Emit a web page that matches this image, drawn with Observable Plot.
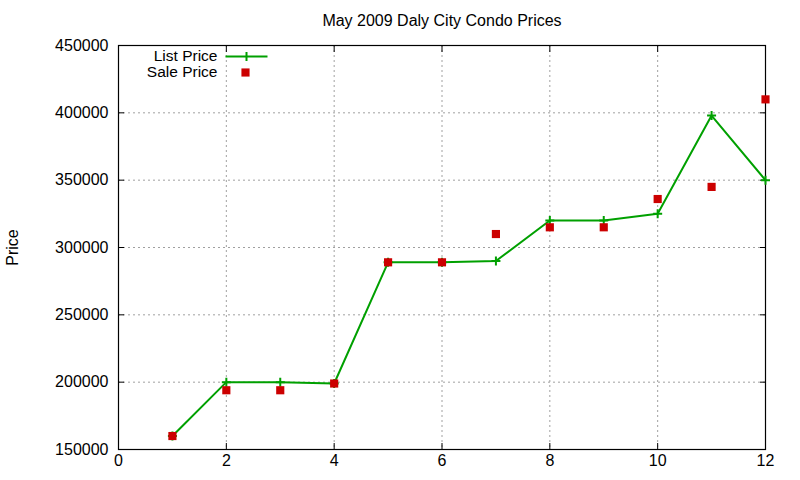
<!DOCTYPE html>
<html>
<head>
<meta charset="utf-8">
<script src="https://cdn.jsdelivr.net/npm/d3@7"></script>
<script src="https://cdn.jsdelivr.net/npm/@observablehq/plot@0.6"></script>
<style>
  html, body { margin: 0; padding: 0; background: #fff; }
  #chart svg { display: block; }
</style>
</head>
<body>
<div id="chart"></div>
<script>
const title = "May 2009 Daly City Condo Prices";
const yLabel = "Price";
const seriesNames = ["List Price", "Sale Price"];
const xValues = [1, 2, 3, 4, 5, 6, 7, 8, 9, 10, 11, 12];
const listPrice = [160000, 200000, 200000, 199000, 289000, 289000, 290000, 320000, 320000, 325000, 398000, 350000];
const salePrice = [160000, 194000, 194000, 199000, 289000, 289000, 310000, 315000, 315000, 336000, 345000, 410000];
const xTicks = [0, 2, 4, 6, 8, 10, 12];
const yTicks = [150000, 200000, 250000, 300000, 350000, 400000, 450000];

const listData = xValues.map((x, i) => ({x, y: listPrice[i]}));
const saleData = xValues.map((x, i) => ({x, y: salePrice[i]}));

const green = "#00a000";
const red = "#cc0000";

const plusSymbol = {
  draw(ctx) {
    const r = 4.5;
    ctx.moveTo(-r, 0); ctx.lineTo(r, 0);
    ctx.moveTo(0, -r); ctx.lineTo(0, r);
  }
};
const legendLineSymbol = {
  draw(ctx) {
    ctx.moveTo(-21, 0); ctx.lineTo(21, 0);
    ctx.moveTo(0, -4.5); ctx.lineTo(0, 4.5);
  }
};

const font = "Liberation Sans, Arial, sans-serif";

const chart = Plot.plot({
  width: 800,
  height: 480,
  marginLeft: 118,
  marginRight: 35,
  marginTop: 45,
  marginBottom: 31,
  style: {fontFamily: font, fontSize: "16px", color: "black", background: "white"},
  x: {domain: [0, 12], ticks: xTicks},
  y: {domain: [150000, 450000], ticks: yTicks},
  marks: [
    Plot.gridX(xTicks, {stroke: "#a0a0a0", strokeOpacity: 1, strokeDasharray: "2,3"}),
    Plot.gridY(yTicks, {stroke: "#a0a0a0", strokeOpacity: 1, strokeDasharray: "2,3"}),
    Plot.frame({stroke: "black", strokeWidth: 1.2}),
    Plot.axisX(xTicks, {anchor: "bottom", tickSize: -6, tickPadding: 11, tickFormat: d => String(d), label: null, fontSize: 16}),
    Plot.axisX(xTicks, {anchor: "top", tickSize: -6, fill: "none", label: null}),
    Plot.axisY(yTicks, {anchor: "left", tickSize: -6, tickPadding: 16, tickFormat: d => String(d), label: null, fontSize: 16}),
    Plot.axisY(yTicks, {anchor: "right", tickSize: -6, fill: "none", label: null}),
    Plot.line(listData, {x: "x", y: "y", stroke: green, strokeWidth: 2}),
    Plot.dot(listData, {x: "x", y: "y", symbol: plusSymbol, stroke: green, strokeWidth: 2, fill: "none"}),
    Plot.dot(saleData, {x: "x", y: "y", symbol: "square", r: 4.6, fill: red, stroke: "none"}),
    // title
    Plot.text([title], {text: d => d, frameAnchor: "top", dy: -25, lineAnchor: "middle", fontSize: 16, fill: "black"}),
    // y label
    Plot.text([yLabel], {text: d => d, frameAnchor: "left", dx: -106, rotate: -90, textAnchor: "middle", lineAnchor: "middle", fontSize: 16, fill: "black"}),
    // legend
    Plot.text([seriesNames[0]], {text: d => d, frameAnchor: "top-left", dx: 99, dy: 10.5, textAnchor: "end", lineAnchor: "middle", fontSize: 15.5, fill: "black"}),
    Plot.dot([0], {frameAnchor: "top-left", dx: 128, dy: 11, symbol: legendLineSymbol, stroke: green, strokeWidth: 2, fill: "none"}),
    Plot.text([seriesNames[1]], {text: d => d, frameAnchor: "top-left", dx: 99, dy: 26.5, textAnchor: "end", lineAnchor: "middle", fontSize: 15.5, fill: "black"}),
    Plot.dot([0], {frameAnchor: "top-left", dx: 127, dy: 27, symbol: "square", r: 4.6, fill: red, stroke: "none"})
  ]
});
document.getElementById("chart").appendChild(chart);
</script>
</body>
</html>
